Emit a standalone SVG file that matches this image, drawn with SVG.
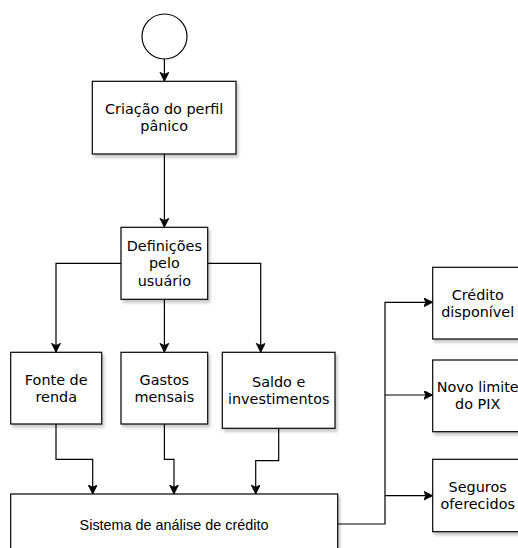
<svg xmlns="http://www.w3.org/2000/svg" width="518" height="548" viewBox="0 0 518 548">
<style>
.box{fill:#fff;stroke:#000;stroke-width:1.2;filter:url(#sh)}
.lbl{font-family:"DejaVu Sans",Verdana,sans-serif;font-size:14.4px;fill:#000;text-anchor:middle}
.lbl2{font-family:"Liberation Sans",Arial,sans-serif;font-size:14.4px;fill:#000;text-anchor:middle}
.edge{fill:none;stroke:#000;stroke-width:1.2;marker-end:url(#arr)}
</style>
<defs>
<filter id="sh" x="-10%" y="-10%" width="130%" height="140%">
<feGaussianBlur in="SourceAlpha" stdDeviation="1.5"/>
<feOffset dx="2" dy="3" result="b"/>
<feComponentTransfer><feFuncA type="linear" slope="0.22"/></feComponentTransfer>
<feMerge><feMergeNode/><feMergeNode in="SourceGraphic"/></feMerge>
</filter>
<marker id="arr" markerUnits="userSpaceOnUse" markerWidth="10" markerHeight="10" refX="9" refY="4.5" orient="auto">
<path d="M0,0 L9,4.5 L0,9 L2.2,4.5 Z" fill="#000" stroke="#000" stroke-width="0.8"/>
</marker>
</defs>
<g id="connectors">
<path class="edge" d="M164.4,59 L164.4,81.3"/>
<path class="edge" d="M164.4,154 L164.4,227.3"/>
<path class="edge" d="M121,263.3 L56,263.3 L56,352.3"/>
<path class="edge" d="M164.4,299.3 L164.4,352.3"/>
<path class="edge" d="M207.7,263.3 L260.7,263.3 L260.7,352.3"/>
<path class="edge" d="M56,424 L56,459.3 L92.7,459.3 L92.7,494"/>
<path class="edge" d="M164.4,424 L164.4,459.3 L174,459.3 L174,494"/>
<path class="edge" d="M278.7,428.3 L278.7,460.7 L255.7,460.7 L255.7,494"/>
<path class="edge" d="M337.7,524 L385,524 L385,302.3 L432.7,302.3"/>
<path class="edge" d="M385,395 L432.7,395"/>
<path class="edge" d="M385,495.7 L432.7,495.7"/>
</g>
<g id="start">
<circle cx="164.5" cy="36.5" r="22.5" fill="#fff" stroke="#000" stroke-width="1.2"/>
</g>
<g id="criacao">
<rect class="box" x="92.3" y="81.3" width="143.7" height="72.7"/>
<text class="lbl" x="164.2" y="114">Criação do perfil</text>
<text class="lbl" x="164.2" y="131.3">pânico</text>
</g>
<g id="definicoes">
<rect class="box" x="121" y="227.3" width="86.7" height="72"/>
<text class="lbl" x="164.3" y="251">Definições</text>
<text class="lbl" x="164.3" y="268.3">pelo</text>
<text class="lbl" x="164.3" y="285.6">usuário</text>
</g>
<g id="fonte">
<rect class="box" x="10.7" y="352.3" width="91" height="71.7"/>
<text class="lbl" x="56.2" y="384.5">Fonte de</text>
<text class="lbl" x="56.2" y="401.8">renda</text>
</g>
<g id="gastos">
<rect class="box" x="121" y="352.3" width="86.7" height="71.7"/>
<text class="lbl" x="164.3" y="384.5">Gastos</text>
<text class="lbl" x="164.3" y="401.8">mensais</text>
</g>
<g id="saldo">
<rect class="box" x="222.3" y="352.3" width="112.7" height="76"/>
<text class="lbl" x="278.7" y="386.6">Saldo e</text>
<text class="lbl" x="278.7" y="403.9">investimentos</text>
</g>
<g id="sistema">
<rect class="box" x="10.7" y="494" width="327" height="60"/>
<text class="lbl2" x="174" y="529.5">Sistema de análise de crédito</text>
</g>
<g id="credito">
<rect class="box" x="432.7" y="267.3" width="90" height="71.7"/>
<text class="lbl" x="477.7" y="299.5">Crédito</text>
<text class="lbl" x="477.7" y="316.7">disponível</text>
</g>
<g id="pix">
<rect class="box" x="432.7" y="360" width="90" height="71.7"/>
<text class="lbl" x="477.7" y="392.1">Novo limite</text>
<text class="lbl" x="477.7" y="409.4">do PIX</text>
</g>
<g id="seguros">
<rect class="box" x="432.7" y="459.3" width="90" height="72.4"/>
<text class="lbl" x="477.7" y="491.8">Seguros</text>
<text class="lbl" x="477.7" y="509.1">oferecidos</text>
</g>
</svg>
